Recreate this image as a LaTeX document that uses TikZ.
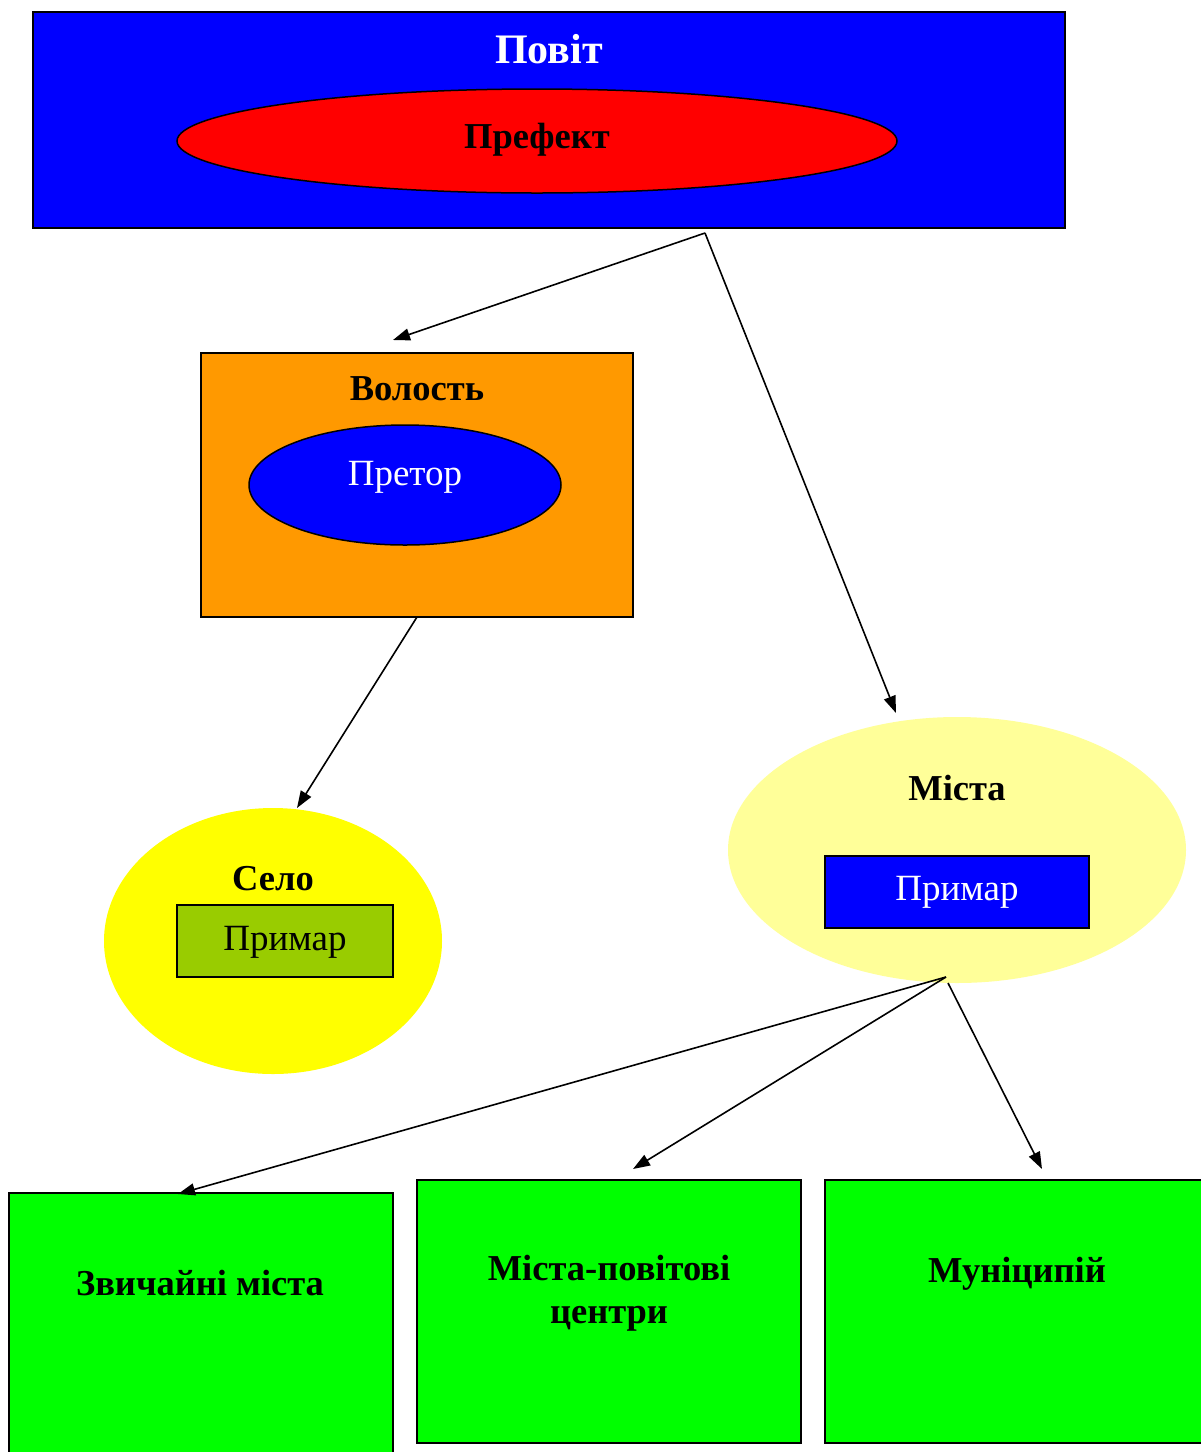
\documentclass[tikz,border=0pt]{standalone}
\usepackage{fontspec}
\setmainfont{Liberation Serif}
\usetikzlibrary{arrows.meta,shapes.geometric}

\definecolor{cblue}{HTML}{0000FF}
\definecolor{cred}{HTML}{FF0000}
\definecolor{corange}{HTML}{FF9900}
\definecolor{cyellow}{HTML}{FFFF00}
\definecolor{clightyellow}{HTML}{FFFF99}
\definecolor{colive}{HTML}{99CC00}
\definecolor{cgreen}{HTML}{00FF00}

\tikzset{
  box/.style={draw=black, line width=1.5pt},
  oval/.style={draw=black, line width=1.5pt},
  label/.style={anchor=base, inner sep=0pt, align=center},
  big/.style={font=\fontsize{36.5}{43}\selectfont\bfseries},
  plain/.style={font=\fontsize{37}{44}\selectfont},
  link/.style={line width=1.6pt, -{Triangle[length=17pt,width=12pt]}},
}

\begin{document}
\begin{tikzpicture}[x=1pt,y=-1pt]
\useasboundingbox (0,0) rectangle (1201,1452);

% county block with prefect
\draw[box, fill=cblue] (33,12) rectangle (1065,228);
\node[label, text=white, font=\fontsize{42}{48}\selectfont\bfseries] (povit) at (549,63) {Повіт};
\draw[oval, fill=cred] (537,141) ellipse [x radius=360, y radius=52];
\node[label, big] (prefekt) at (537,148) {Префект};

% district block with praetor
\draw[box, fill=corange] (201,353) rectangle (633,617);
\node[label, big] (volost) at (417,400) {Волость};
\draw[oval, fill=cblue] (405,485) ellipse [x radius=156, y radius=60];
\node[label, plain, text=white] (pretor) at (405,485) {Претор};

% village
\fill[cyellow] (273,941) ellipse [x radius=169, y radius=133];
\node[label, big] (selo) at (273,890) {Село};
\draw[box, fill=colive] (177,905) rectangle (393,977);
\node[label, plain] (prymar1) at (285,950) {Примар};

% towns
\fill[clightyellow] (957,850) ellipse [x radius=229, y radius=133];
\node[label, big] (mista) at (957,800) {Міста};
\draw[box, fill=cblue] (825,856) rectangle (1089,928);
\node[label, plain, text=white] (prymar2) at (957,900) {Примар};

% kinds of towns
\draw[box, fill=cgreen] (9,1193) rectangle (393,1460);
\node[label, big] (zvychaini) at (200,1295) {Звичайні міста};
\draw[box, fill=cgreen] (417,1180) rectangle (801,1443);
\node[label, big] (povitovi) at (609,1323) {Міста-повітові\\центри};
\draw[box, fill=cgreen] (825,1180) rectangle (1210,1443);
\node[label, big] (munitsypii) at (1017,1282) {Муніципій};

% connector ends
\coordinate (fromPovit) at (705,233);
\coordinate (toVolost) at (393,340);
\coordinate (toMista) at (896,713);
\coordinate (fromVolost) at (417,617);
\coordinate (toSelo) at (297,808);
\coordinate (fromMista) at (946,977);
\coordinate (fromMistaB) at (948,983);
\coordinate (toZv) at (178,1194);
\coordinate (toPov) at (633,1169);
\coordinate (toMun) at (1042,1169);

\draw[link] (fromPovit) -- (toVolost);
\draw[link] (fromPovit) -- (toMista);
\draw[link] (fromVolost) -- (toSelo);
\draw[link] (fromMista) -- (toZv);
\draw[link] (fromMista) -- (toPov);
\draw[link] (fromMistaB) -- (toMun);
\end{tikzpicture}
\end{document}
